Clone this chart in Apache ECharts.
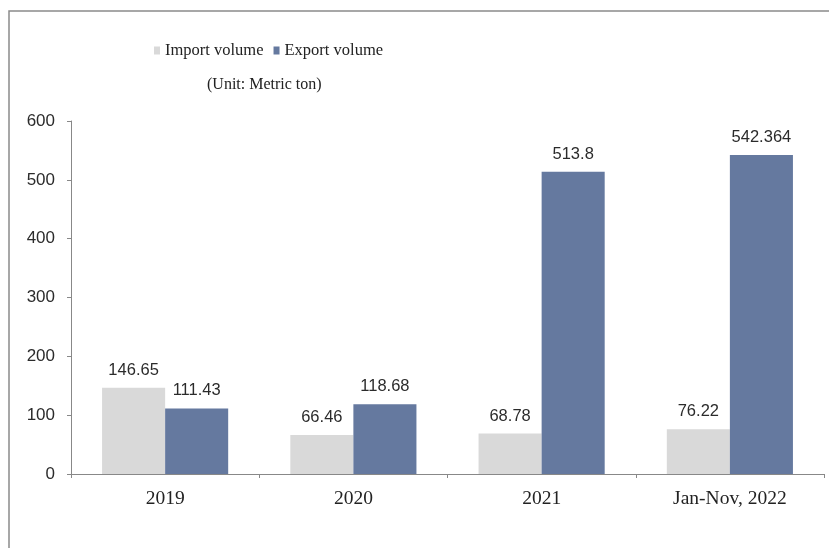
<!DOCTYPE html>
<html>
<head>
<meta charset="utf-8">
<script src="https://cdn.jsdelivr.net/npm/echarts@6/dist/echarts.min.js"></script>
<style>
  html, body { margin: 0; padding: 0; background: #fff; }
  #chart { width: 829px; height: 548px; }
</style>
</head>
<body>
<div id="chart"></div>
<script>
// Trade volumes by period, in metric tons
const categories = ['2019', '2020', '2021', 'Jan-Nov, 2022'];
const importVolume = [146.65, 66.46, 68.78, 76.22];
const exportVolume = [111.43, 118.68, 513.8, 542.364];
const yTicks = { min: 0, max: 600, interval: 100 };

const chart = echarts.init(document.getElementById('chart'));

const serif = '"Liberation Serif", "Times New Roman", serif';
const sans = '"Liberation Sans", Arial, sans-serif';

const valueLabel = {
  show: true,
  position: 'top',
  distance: 9,
  fontFamily: sans,
  fontSize: 16.5,
  color: '#2b2b2b'
};

chart.setOption({
  backgroundColor: '#fff',
  animation: false,
  graphic: [
    {
      type: 'rect',
      shape: { x: 9, y: 11, width: 900, height: 700 },
      style: { fill: 'none', stroke: '#8a8a8a', lineWidth: 1.5 },
      silent: true
    }
  ],
  title: {
    text: '(Unit: Metric ton)',
    left: 207,
    top: 77,
    padding: 0,
    textStyle: { fontFamily: serif, fontSize: 16, fontWeight: 'normal', color: '#222' }
  },
  legend: {
    left: 154,
    top: 42,
    padding: 0,
    itemWidth: 6,
    itemHeight: 8,
    itemGap: 10,
    icon: 'rect',
    textStyle: { fontFamily: serif, fontSize: 16.5, color: '#222' },
    data: ['Import volume', 'Export volume']
  },
  grid: { left: 71, right: 5, top: 121, bottom: 74, containLabel: false },
  xAxis: {
    type: 'category',
    data: categories,
    axisLine: { lineStyle: { color: '#888', width: 1 } },
    axisTick: { show: true, length: 4, lineStyle: { color: '#888' } },
    axisLabel: { fontFamily: serif, fontSize: 19.5, color: '#222', margin: 15 }
  },
  yAxis: {
    type: 'value',
    min: yTicks.min,
    max: yTicks.max,
    interval: yTicks.interval,
    splitLine: { show: false },
    axisLine: { show: true, lineStyle: { color: '#888', width: 1 } },
    axisTick: { show: true, length: 4, lineStyle: { color: '#888' } },
    axisLabel: { fontFamily: sans, fontSize: 17, color: '#2b2b2b', margin: 16 }
  },
  series: [
    {
      name: 'Import volume',
      type: 'bar',
      data: importVolume,
      barGap: '0%',
      barCategoryGap: '33%',
      itemStyle: { color: '#d9d9d9' },
      label: valueLabel
    },
    {
      name: 'Export volume',
      type: 'bar',
      data: exportVolume,
      barGap: '0%',
      barCategoryGap: '33%',
      itemStyle: { color: '#65799f' },
      label: valueLabel
    }
  ]
});
</script>
</body>
</html>
